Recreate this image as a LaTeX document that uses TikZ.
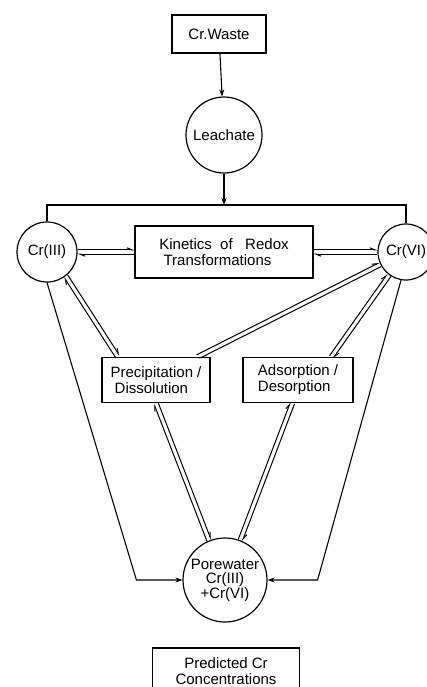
\documentclass[tikz,border=0pt]{standalone}
\usepackage{fontspec}
\setmainfont{Liberation Sans}
\usetikzlibrary{arrows.meta,
                calc}

\newcommand\eqarrow[2]{%
 \draw[eq] ($(#1)!2.2pt!90:(#2)$) -- ($(#2)!2.2pt!-90:(#1)$);
 \draw[eq] ($(#2)!2.2pt!90:(#1)$) -- ($(#1)!2.2pt!-90:(#2)$);}

\begin{document}
\begin{tikzpicture}[x=1pt,y=-1pt,
  font=\fontsize{15}{16}\selectfont,
  box/.style={draw,line width=1.2pt,inner sep=2pt},
  pool/.style={draw,circle,line width=1.2pt,inner sep=0pt},
  flow/.style={line width=1.1pt,-{Stealth[length=7pt,width=5pt]}},
  eq/.style={line width=1pt,-{Straight Barb[left,length=5pt,width=4pt]}}]
 \useasboundingbox (0,0) rectangle (426,687);
 \node[box,minimum width=94,minimum height=38] (waste) at (219,34) {Cr.Waste};
 \node[pool,minimum size=76] (leach) at (224,135) {Leachate};
 \coordinate (top) at (224,205);
 \node[pool,minimum size=60] (cr3) at (47,252) {Cr(III)};
 \node[pool,minimum size=56] (cr6) at (406,252) {Cr(VI)};
 \node[box,minimum width=178,minimum height=52,align=left] (kin) at (224,252)
   {Kinetics \ of \ \ Redox\\ \ Transformations};
 \node[box,minimum width=108,minimum height=45,align=left] (prec) at (156,380)
   {Precipitation /\\ \ Dissolution};
 \node[box,minimum width=110,minimum height=45,align=left] (ads) at (298,380)
   {Adsorption /\\Desorption};
 \node[pool,minimum size=84,align=center,font=\fontsize{15}{14.5}\selectfont] (pore) at (225,580)
   {Porewater\\Cr(III)\\+Cr(VI)};
 \node[box,minimum width=147,minimum height=46,align=center,font=\fontsize{15}{16}\selectfont] (pred) at (226,671)
   {Predicted Cr\\Concentrations};

 \draw[flow] (waste) -- (leach);
 \draw[flow] (leach) -- (top);
 \draw[line width=1.1pt] (cr3) -- (cr3 |- top) -- (cr6 |- top) -- (cr6);

 \coordinate (p1) at ($(prec.north west)!.15!(prec.north east)$);
 \coordinate (p2) at ($(prec.north west)!.88!(prec.north east)$);
 \coordinate (p3) at ($(ads.north west)!.8!(ads.north east)$);
 \coordinate (p4) at ($(ads.south west)!.45!(ads.south east)$);
 \eqarrow{cr3.east}{kin.west}
 \eqarrow{kin.east}{cr6.west}
 \eqarrow{cr3.-52}{p1}
 \eqarrow{cr6.206}{p2}
 \eqarrow{cr6.234}{p3}
 \eqarrow{prec.south}{pore.112}
 \eqarrow{p4}{pore.69}

 \draw[flow] (cr3.south) -- ($(pore.west)+(-46,0)$) -- (pore.west);
 \draw[flow] (cr6.-100) -- ($(pore.east)+(50,0)$) -- (pore.east);
\end{tikzpicture}
\end{document}
